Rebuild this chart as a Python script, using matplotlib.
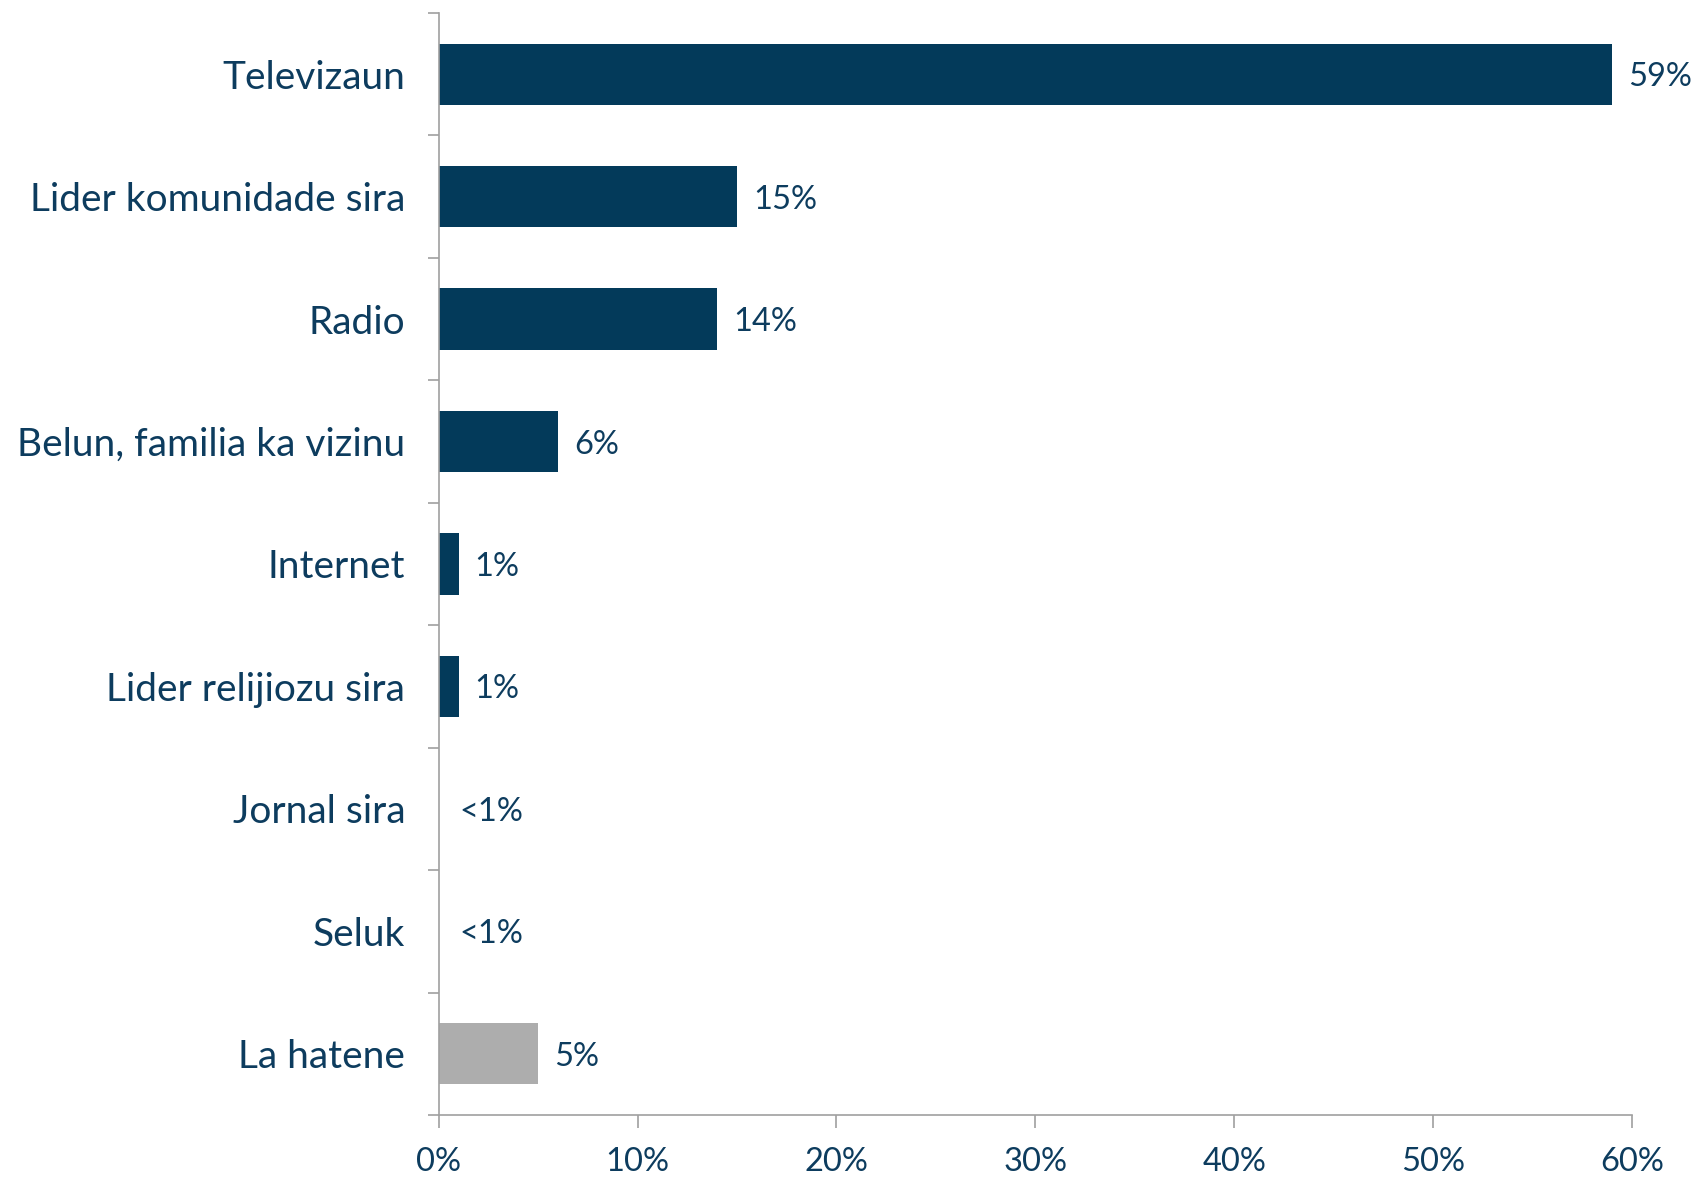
import matplotlib
matplotlib.use("Agg")
import matplotlib.pyplot as plt
from matplotlib.ticker import FixedLocator, FuncFormatter

# Sources of information
categories = [
    "Televizaun",
    "Lider komunidade sira",
    "Radio",
    "Belun, familia ka vizinu",
    "Internet",
    "Lider relijiozu sira",
    "Jornal sira",
    "Seluk",
    "La hatene",
]
values = [59, 15, 14, 6, 1, 1, 0, 0, 5]
value_labels = ["59%", "15%", "14%", "6%", "1%", "1%", "<1%", "<1%", "5%"]
x_ticks = [0, 10, 20, 30, 40, 50, 60]

NAVY = "#033a5a"
GREY = "#adadad"
TEXT = "#0d3c5e"
AXIS = "#a0a0a0"

plt.rcParams["font.family"] = ["Lato", "DejaVu Sans"]

fig = plt.figure(figsize=(16.95, 11.78), dpi=100)
ax = fig.add_axes([0.2588, 0.0535, 0.9628 - 0.2588, 0.989 - 0.0535])

colors = [NAVY] * (len(categories) - 1) + [GREY]
ypos = list(range(len(categories)))
ax.barh(ypos, values, height=0.5, color=colors, zorder=2)

for y, v, lab in zip(ypos, values, value_labels):
    off = 11.5 if v > 0 else 15
    ax.annotate(lab, xy=(v, y), xytext=(off, 0), textcoords="offset points",
                ha="left", va="center_baseline", fontsize=23.5, color=TEXT)

ax.set_xlim(0, 60)
ax.set_ylim(len(categories) - 0.5, -0.5)

# category names as minor ticks at bar centres, major tick marks between bars
ax.yaxis.set_major_locator(FixedLocator([i - 0.5 for i in range(len(categories) + 1)]))
ax.yaxis.set_major_formatter(FuncFormatter(lambda v, p: ""))
ax.yaxis.set_minor_locator(FixedLocator(ypos))
ax.set_yticklabels(categories, minor=True)
ax.tick_params(axis="y", which="minor", length=0, pad=24, labelsize=28, labelcolor=TEXT)
ax.tick_params(axis="y", which="major", length=8, width=1.2, color=AXIS, direction="out")

ax.set_xticks(x_ticks)
ax.set_xticklabels([f"{t}%" for t in x_ticks])
ax.tick_params(axis="x", length=9, width=1.2, color=AXIS, direction="out",
               pad=14, labelsize=23.5, labelcolor=TEXT)

for side in ("top", "right"):
    ax.spines[side].set_visible(False)
for side in ("left", "bottom"):
    ax.spines[side].set_color(AXIS)
    ax.spines[side].set_linewidth(1.2)

fig.savefig("out.png", dpi=100)
